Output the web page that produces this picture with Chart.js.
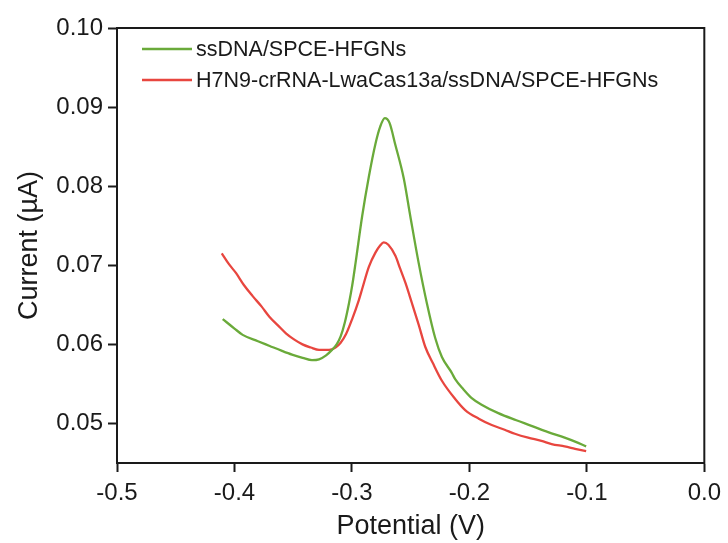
<!DOCTYPE html>
<html>
<head>
<meta charset="utf-8">
<title>DPV curves</title>
<script src="https://cdn.jsdelivr.net/npm/chart.js@4.4.1/dist/chart.umd.min.js"></script>
<style>
    html, body { margin: 0; padding: 0; background: #fff; }
    #wrap { width: 728px; height: 543px; }
</style>
</head>
<body>
<div id="wrap"><canvas id="dpvChart" width="728" height="543"></canvas></div>
<script>
// Series labels
const seriesNames = ['ssDNA/SPCE-HFGNs', 'H7N9-crRNA-LwaCas13a/ssDNA/SPCE-HFGNs'];

// ssDNA/SPCE-HFGNs (green) - potential (V) / current (µA)
const greenPotential = [-0.410, -0.400, -0.393, -0.380, -0.370, -0.360, -0.351, -0.342, -0.334, -0.328,
    -0.322, -0.317, -0.313, -0.3096, -0.306, -0.3025, -0.2997, -0.2969, -0.2913, -0.2856,
    -0.2799, -0.276, -0.272, -0.268, -0.263, -0.2559, -0.2503, -0.2432, -0.2362, -0.2291,
    -0.2234, -0.2150, -0.2121, -0.2050, -0.198, -0.190, -0.1754, -0.160, -0.1472, -0.1330,
    -0.1189, -0.1100, -0.1006];
const greenCurrent = [0.0632, 0.0620, 0.0612, 0.0604, 0.0598, 0.0592, 0.0587, 0.0583, 0.0580, 0.0581,
    0.0586, 0.0593, 0.0600, 0.0610, 0.0628, 0.0652, 0.0675, 0.0703, 0.0762, 0.0812,
    0.0854, 0.0875, 0.0886, 0.0880, 0.0852, 0.0810, 0.0762, 0.0703, 0.0652, 0.0608,
    0.0584, 0.0564, 0.0556, 0.0543, 0.0532, 0.0524, 0.0513, 0.0504, 0.0497, 0.0489,
    0.0482, 0.0477, 0.0471];

// H7N9-crRNA-LwaCas13a/ssDNA/SPCE-HFGNs (red)
const redPotential = [-0.4108, -0.4050, -0.3986, -0.3920, -0.3845, -0.3770, -0.3703, -0.3630, -0.3562, -0.3490,
    -0.3421, -0.3350, -0.328, -0.3195, -0.314, -0.3096, -0.3050, -0.2998, -0.2941, -0.2913,
    -0.2856, -0.2800, -0.2760, -0.2729, -0.2690, -0.2630, -0.2590, -0.2545, -0.2489, -0.2430,
    -0.2376, -0.2310, -0.2234, -0.2121, -0.2036, -0.1920, -0.181, -0.1700, -0.1613,
    -0.1500, -0.1387, -0.1300, -0.1189, -0.1100, -0.1006];
const redCurrent = [0.0715, 0.0702, 0.0690, 0.0675, 0.0661, 0.0648, 0.0635, 0.0624, 0.0614, 0.0606,
    0.0600, 0.0596, 0.0593, 0.0593, 0.0596, 0.0602, 0.0613, 0.0632, 0.0656, 0.0670,
    0.0698, 0.0716, 0.0725, 0.0729, 0.0726, 0.0712, 0.0696, 0.0678, 0.0652, 0.0624,
    0.0597, 0.0576, 0.0554, 0.0531, 0.0517, 0.0506, 0.0498, 0.0492, 0.0487,
    0.0482, 0.0478, 0.0474, 0.0471, 0.0468, 0.0465];

// Axis ticks
const xTicks = [-0.5, -0.4, -0.3, -0.2, -0.1, 0.0];
const yTicks = [0.05, 0.06, 0.07, 0.08, 0.09, 0.10];

const FONT = '"Liberation Sans", Arial, Helvetica, sans-serif';
const INK = '#1a1a1a';

function toPoints(xs, ys) {
    return xs.map((x, i) => ({ x: x, y: ys[i] }));
}

// cadre complet autour de la zone de tracé
const framePlugin = {
    id: 'frame',
    afterDatasetsDraw(chart) {
        const a = chart.chartArea;
        const ctx = chart.ctx;
        ctx.save();
        ctx.strokeStyle = INK;
        ctx.lineWidth = 2;
        ctx.strokeRect(a.left, a.top, a.right - a.left, a.bottom - a.top);
        ctx.restore();
    }
};

new Chart(document.getElementById('dpvChart'), {
    type: 'line',
    data: {
        datasets: [{
            label: seriesNames[0],
            data: toPoints(greenPotential, greenCurrent),
            borderColor: '#6aaa3a',
            borderWidth: 2.3,
            pointRadius: 0,
            cubicInterpolationMode: 'monotone',
            fill: false
        }, {
            label: seriesNames[1],
            data: toPoints(redPotential, redCurrent),
            borderColor: '#e8463f',
            borderWidth: 2.3,
            pointRadius: 0,
            cubicInterpolationMode: 'monotone',
            fill: false
        }]
    },
    options: {
        responsive: false,
        animation: false,
        devicePixelRatio: 1,
        layout: { padding: { top: 28, right: 21, bottom: 0, left: 0 } },
        plugins: {
            legend: { display: false },
            tooltip: { enabled: false }
        },
        scales: {
            x: {
                type: 'linear',
                min: -0.5,
                max: 0,
                afterBuildTicks(scale) { scale.ticks = xTicks.map(v => ({ value: v })); },
                afterFit(scale) { scale.height = 80; },
                ticks: {
                    color: INK,
                    padding: 7,
                    maxRotation: 0,
                    font: { family: FONT, size: 24 },
                    callback: v => v.toFixed(1)
                },
                grid: { drawOnChartArea: false, tickLength: 9, tickWidth: 2, color: INK },
                border: { display: true, color: INK, width: 2 },
                title: {
                    display: true,
                    text: 'Potential (V)',
                    color: INK,
                    font: { family: FONT, size: 27 },
                    padding: { top: 0, bottom: 0 }
                }
            },
            y: {
                type: 'linear',
                min: 0.045,
                max: 0.10,
                afterBuildTicks(scale) { scale.ticks = yTicks.map(v => ({ value: v })); },
                afterFit(scale) { scale.width = 117; },
                ticks: {
                    color: INK,
                    padding: 5,
                    font: { family: FONT, size: 24 },
                    callback: v => v.toFixed(2)
                },
                grid: { drawOnChartArea: false, tickLength: 9, tickWidth: 2, color: INK },
                border: { display: true, color: INK, width: 2 },
                title: {
                    display: true,
                    text: 'Current (µA)',
                    color: INK,
                    font: { family: FONT, size: 27 },
                    padding: { top: 13, bottom: 0 }
                }
            }
        }
    },
    plugins: [framePlugin, {
        // légende dessinée à la main, dans le coin haut gauche
        id: 'insetLegend',
        afterDraw(chart) {
            const ctx = chart.ctx;
            const a = chart.chartArea;
            const rows = chart.data.datasets;
            ctx.save();
            ctx.font = '21.5px ' + FONT;
            ctx.textBaseline = 'middle';
            rows.forEach((ds, i) => {
                const y = a.top + 21 + i * 31;
                ctx.strokeStyle = ds.borderColor;
                ctx.lineWidth = 2.3;
                ctx.beginPath();
                ctx.moveTo(a.left + 25, y);
                ctx.lineTo(a.left + 75, y);
                ctx.stroke();
                ctx.fillStyle = INK;
                ctx.fillText(ds.label, a.left + 79, y + 1);
            });
            ctx.restore();
        }
    }]
});
</script>
</body>
</html>
